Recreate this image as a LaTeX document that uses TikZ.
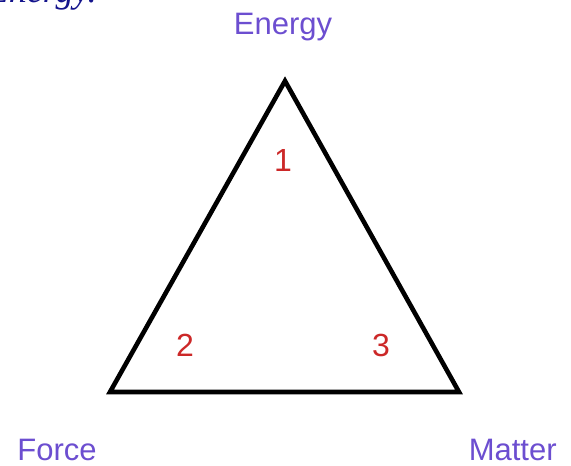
\documentclass[tikz,border=0pt]{standalone}
\usepackage{fontspec}
\setmainfont{Liberation Sans}
\newfontfamily\headfont{Liberation Serif}
\definecolor{vertexblue}{RGB}{108,78,208}
\definecolor{anglered}{RGB}{204,40,40}
\definecolor{headblue}{RGB}{20,20,140}
\begin{document}
\begin{tikzpicture}[x=0.5pt,y=0.5pt,
    vertexlabel/.style={text=vertexblue,inner sep=0pt,font=\fontsize{15.5}{18}\selectfont},
    anglenum/.style={text=anglered,inner sep=0pt,font=\fontsize{16}{19}\selectfont}]
  \useasboundingbox (0,0) rectangle (571,465);
  \clip (0,0) rectangle (571,465);

  % heading cut off at the top edge
  \node[anchor=base east,inner sep=0pt,text=headblue,
        font=\headfont\itshape\fontsize{18}{22}\selectfont] (head) at (97,462) {Energy.};

  \coordinate (E) at (285,384);
  \coordinate (F) at (110,73);
  \coordinate (M) at (459,73);

  % the triangle
  \draw [line width=2.3pt] (F) -- (E) -- (M) -- cycle;

  \node[vertexlabel,anchor=base]      (energy) at (283,430) {Energy};
  \node[vertexlabel,anchor=base west] (force)  at (17,5)    {Force};
  \node[vertexlabel,anchor=base east] (matter) at (557,5)   {Matter};

  \node[anglenum,anchor=base] (one)   at (283,293) {1};
  \node[anglenum,anchor=base] (two)   at (185,108) {2};
  \node[anglenum,anchor=base] (three) at (381,108) {3};
\end{tikzpicture}
\end{document}
